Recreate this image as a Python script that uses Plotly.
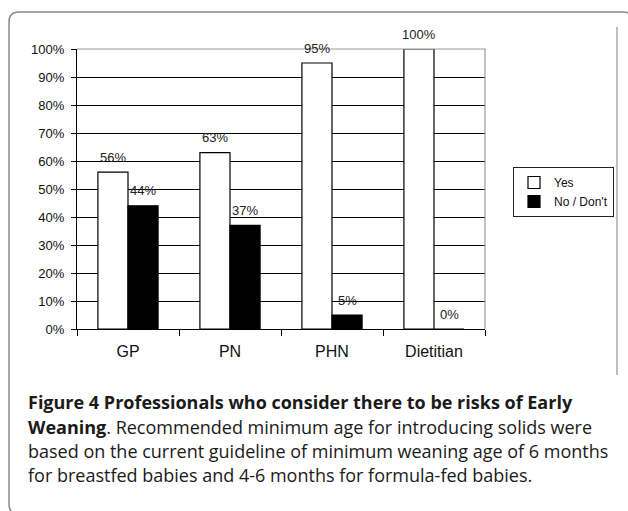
import plotly.graph_objects as go

categories = ["GP", "PN", "PHN", "Dietitian"]
yes_values = [56, 63, 95, 100]
no_values = [44, 37, 5, 0]
series_names = ["Yes", "No / Don't"]
y_tick_values = [0, 10, 20, 30, 40, 50, 60, 70, 80, 90, 100]
y_tick_labels = [f"{v}%" for v in y_tick_values]

caption_lines = [
    "<b>Figure 4 Professionals who consider there to be risks of Early</b>",
    "<b>Weaning</b>. Recommended minimum age for introducing solids were",
    "based on the current guideline of minimum weaning age of 6 months",
    "for breastfed babies and 4-6 months for formula-fed babies.",
]

W, H = 628, 511
ML, MR, MT, MB = 77, 143, 49, 182
PW = W - ML - MR
PH = H - MT - MB


def fx(px):
    return (px - ML) / PW


def fy(py):
    return (H - MB - py) / PH


fig = go.Figure()
fig.add_trace(go.Bar(
    x=categories, y=yes_values, name=series_names[0],
    marker=dict(color="white", line=dict(color="black", width=1.2)),
))
fig.add_trace(go.Bar(
    x=categories, y=no_values, name=series_names[1],
    marker=dict(color="black", line=dict(color="black", width=1.2)),
))

annotations = []
for cat, v in zip(categories, yes_values):
    annotations.append(dict(x=cat, y=v, xref="x", yref="y", text=f"{v}%",
                            showarrow=False, xshift=-15, yshift=15,
                            yanchor="middle",
                            font=dict(family="Arial", size=13, color="#222")))
for cat, v in zip(categories, no_values):
    annotations.append(dict(x=cat, y=v, xref="x", yref="y", text=f"{v}%",
                            showarrow=False, xshift=15, yshift=15,
                            yanchor="middle",
                            font=dict(family="Arial", size=13, color="#222")))

caption_y = [402, 427, 451, 475]
for line, py in zip(caption_lines, caption_y):
    annotations.append(dict(x=fx(26), y=fy(py), xref="paper", yref="paper",
                            text=line, showarrow=False, xanchor="left",
                            yanchor="middle", align="left",
                            font=dict(family="Open Sans", size=18, color="#1a1a1a")))


def pt(px, py):
    return f"{fx(px):.5f},{fy(py):.5f}"


L, T, R, B, r = 9, 12, 633, 514, 10
frame_path = (
    f"M{pt(L, T + r)} Q{pt(L, T)} {pt(L + r, T)} L{pt(R - r, T)} "
    f"Q{pt(R, T)} {pt(R, T + r)} L{pt(R, B - r)} Q{pt(R, B)} {pt(R - r, B)} "
    f"L{pt(L + r, B)} Q{pt(L, B)} {pt(L, B - r)} Z"
)

shapes = [
    dict(type="path", path=frame_path, xref="paper", yref="paper",
         line=dict(color="#8a8a8a", width=1.5), layer="above"),
    dict(type="line", x0=fx(617), x1=fx(617), y0=fy(27), y1=fy(375),
         xref="paper", yref="paper", line=dict(color="#a8a8a8", width=1.5)),
    dict(type="path", path="M0,1 L1,1 L1,0", xref="paper", yref="paper",
         line=dict(color="#9a9a9a", width=1.2), layer="above"),
]

fig.update_layout(
    width=W, height=H,
    margin=dict(l=ML, r=MR, t=MT, b=MB),
    paper_bgcolor="white", plot_bgcolor="white",
    barmode="group", bargap=0.41, bargroupgap=0,
    showlegend=True,
    legend=dict(x=fx(513), y=fy(167), xanchor="left", yanchor="top",
                bordercolor="#222", borderwidth=1, bgcolor="white",
                font=dict(family="Arial", size=12, color="#111"),
                traceorder="normal"),
    annotations=annotations,
    shapes=shapes,
    xaxis=dict(type="category", showline=True, linecolor="black", linewidth=1.2,
               ticks="outside", tickson="boundaries", ticklen=6, tickcolor="black",
               tickwidth=1.2, showgrid=False,
               tickfont=dict(family="Arial", size=16, color="#111"),
               ticklabelstandoff=8),
    yaxis=dict(range=[0, 100], tickvals=y_tick_values, ticktext=y_tick_labels,
               showline=True, linecolor="black", linewidth=1.2,
               ticks="outside", ticklen=5, tickcolor="black", tickwidth=1.2,
               showgrid=True, gridcolor="black", gridwidth=1,
               zeroline=False,
               tickfont=dict(family="Arial", size=13, color="#111"),
               ticklabelstandoff=4),
)

fig.write_html("out.html")
